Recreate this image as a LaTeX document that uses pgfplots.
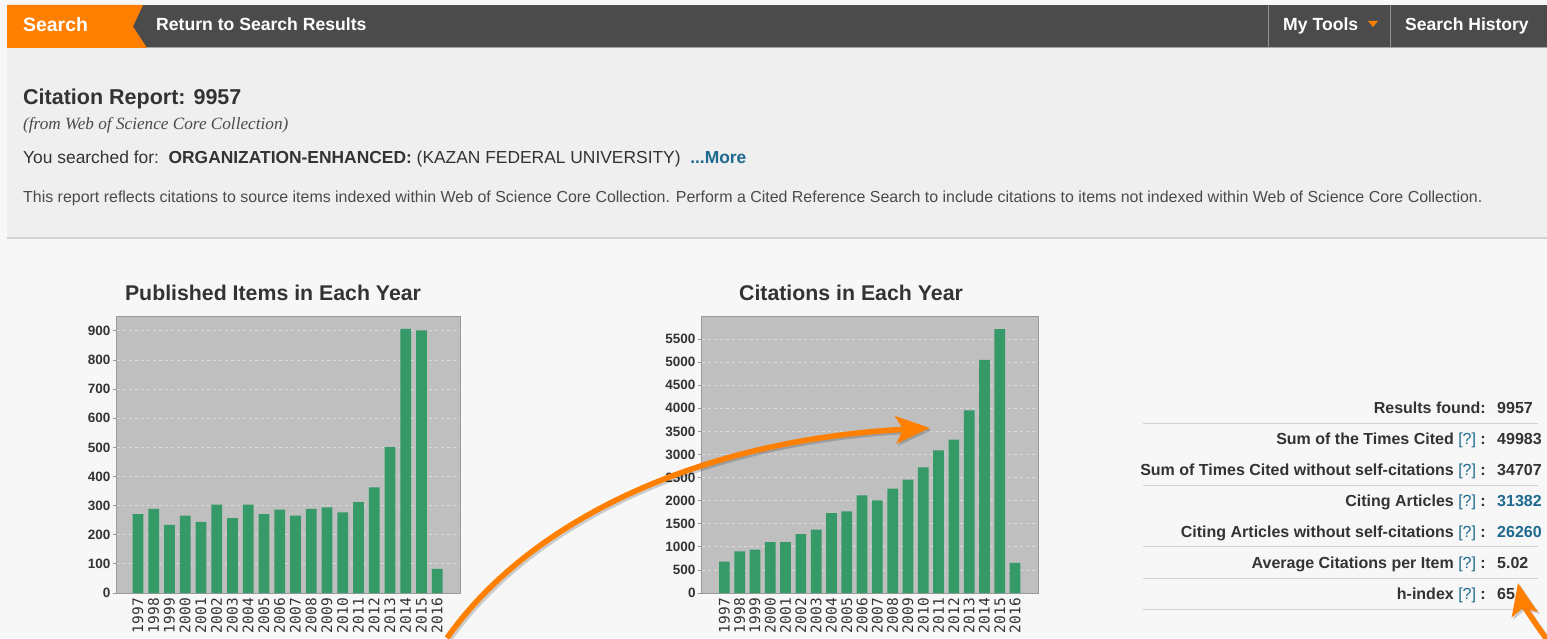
\documentclass[border=0pt]{standalone}
\usepackage{fontspec}
\setmainfont{Liberation Sans}
\newfontfamily\serifit{Liberation Serif}
\newfontfamily\monof{DejaVu Sans Mono}
\usepackage{pgfplots}
\pgfplotsset{compat=1.18}
\usetikzlibrary{arrows.meta}

\definecolor{pagebg}{HTML}{F7F7F7}
\definecolor{headbg}{HTML}{EFEFEF}
\definecolor{barbg}{HTML}{4B4B4B}
\definecolor{orng}{HTML}{FF7F00}
\definecolor{txt}{HTML}{333333}
\definecolor{bodytxt}{HTML}{4A4A4A}
\definecolor{linkc}{HTML}{1E6A8E}
\definecolor{rulec}{HTML}{D2D2D2}
\definecolor{plotbg}{HTML}{BFBFBF}
\definecolor{gridc}{HTML}{DADADA}
\definecolor{framec}{HTML}{9A9A9A}
\definecolor{barc}{HTML}{359968}

\newcommand{\fs}[1]{\fontsize{#1}{#1}\selectfont}

\pgfplotsset{wos/.style={
  scale only axis, height=277pt, anchor=south west,
  ybar, bar width=10.7pt, ymin=0,
  axis background/.style={fill=plotbg},
  axis line style={draw=framec, line width=0.8pt},
  ymajorgrids, grid style={dashed, draw=gridc, line width=0.8pt},
  xtick={0,...,19},
  xticklabels={1997,1998,1999,2000,2001,2002,2003,2004,2005,2006,2007,2008,2009,2010,2011,2012,2013,2014,2015,2016},
  x tick label style={rotate=90, anchor=east, font=\monof\fs{14.5}, text=txt, inner sep=1pt},
  y tick label style={font=\bfseries\fs{13.5}, text=txt, /pgf/number format/1000 sep={}, inner sep=2pt},
  /pgf/number format/assume math mode=true,
  scaled y ticks=false,
  xtick style={draw=none},
  ytick pos=left,
  ytick style={draw=framec, line width=0.8pt},
  tick align=outside, major tick length=4pt,
}}

\begin{document}
\begin{tikzpicture}[x=1pt,y=1pt]
\useasboundingbox (0,0) rectangle (1547,638);
% page
\fill[pagebg] (0,0) rectangle (1547,638);
\fill[headbg] (7,400) rectangle (1547,633);
\draw[rulec, line width=1.5pt] (7,400) -- (1547,400);
% top bar
\fill[barbg] (7,590) rectangle (1547,633);
\draw[gray!70, line width=1pt] (7,590) -- (1547,590);
\fill[orng] (7,590) -- (7,633) -- (143,633) -- (133,611.5) -- (147,590) -- cycle;
\draw[white!40!barbg, line width=0.8pt] (1268,590) -- (1268,633) (1390,590) -- (1390,633);
\node[anchor=base west, inner sep=0pt, text=white] at (23,606) {\bfseries\fs{19.4}Search};
\node[anchor=base west, inner sep=0pt, text=white] at (156,607) {\bfseries\fs{17.6}Return to Search Results};
\node[anchor=base west, inner sep=0pt, text=white] at (1283,607) {\bfseries\fs{17.6}My Tools};
\fill[orng] (1368,617) -- (1378,617) -- (1373,611) -- cycle;
\node[anchor=base west, inner sep=0pt, text=white] at (1405,607) {\bfseries\fs{17.5}Search History};
% header text
\node[anchor=base west, inner sep=0pt, text=txt] at (23,533) {\bfseries\fs{21.5}Citation Report: 9957};
\node[anchor=base west, inner sep=0pt, text=bodytxt] at (23,508) {\serifit\itshape\fs{17.2}(from Web of Science Core Collection)};
\node[anchor=base west, inner sep=0pt, text=txt] at (23,474) {\fs{17.4}You searched for:\ \ \textbf{ORGANIZATION-ENHANCED:} (KAZAN FEDERAL UNIVERSITY)\ \ \textcolor{linkc}{\bfseries ...More}};
\node[anchor=base west, inner sep=0pt, text=bodytxt] at (23,435) {\fs{15.95}This report reflects citations to source items indexed within Web of Science Core Collection. Perform a Cited Reference Search to include citations to items not indexed within Web of Science Core Collection.};
% chart titles
\node[anchor=base, inner sep=0pt, text=txt] at (273,337) {\bfseries\fs{21.3}Published Items in Each Year};
\node[anchor=base, inner sep=0pt, text=txt] at (851,337) {\bfseries\fs{21.3}Citations in Each Year};

\begin{axis}[wos, at={(116.7pt,45pt)}, width=343.3pt,
  xmin=-1.35, xmax=20.45, ymax=951, ytick={0,100,...,900}]
\addplot[fill=barc, draw=none] coordinates {
(0,271) (1,289) (2,234) (3,266) (4,244) (5,303) (6,257) (7,303) (8,271) (9,286)
(10,266) (11,289) (12,294) (13,277) (14,312) (15,363) (16,501) (17,907) (18,902) (19,83)};
\end{axis}

\begin{axis}[wos, at={(701.7pt,45pt)}, width=336.3pt,
  xmin=-1.48, xmax=20.5, ymax=6000, ytick={0,500,...,5500}]
\addplot[fill=barc, draw=none] coordinates {
(0,678) (1,902) (2,938) (3,1104) (4,1104) (5,1277) (6,1371) (7,1732) (8,1768) (9,2115)
(10,2006) (11,2259) (12,2454) (13,2721) (14,3089) (15,3320) (16,3955) (17,5052) (18,5716) (19,650)};
\end{axis}

% stats table
\foreach \yy in {215,153,92,60,29} \draw[rulec, line width=1pt] (1143,\yy) -- (1538,\yy);
\newcommand{\q}{\mdseries\textcolor{linkc}{[?]}\ \bfseries:}
\begin{scope}[every node/.style={inner sep=0pt, text=txt, font=\bfseries\fs{16}}]
\node[anchor=base east] at (1486,225) {Results found:};
\node[anchor=base west] at (1497,225) {9957};
\node[anchor=base east] at (1486,194) {Sum of the Times Cited \q};
\node[anchor=base west] at (1497,194) {49983};
\node[anchor=base east] at (1486,163) {Sum of Times Cited without self-citations \q};
\node[anchor=base west] at (1497,163) {34707};
\node[anchor=base east] at (1486,132) {Citing Articles \q};
\node[anchor=base west, text=linkc] at (1497,132) {31382};
\node[anchor=base east] at (1486,101) {Citing Articles without self-citations \q};
\node[anchor=base west, text=linkc] at (1497,101) {26260};
\node[anchor=base east] at (1486,70) {Average Citations per Item \q};
\node[anchor=base west] at (1497,70) {5.02};
\node[anchor=base east] at (1486,39) {h-index \q};
\node[anchor=base west] at (1497,39) {65};
\end{scope}

% arrows
\begin{scope}[line width=5.5pt]
\draw[black, opacity=0.18, -{Stealth[length=34pt, width=27pt, inset=7pt]}, shift={(2,-2)}]
  (447,0) .. controls (530,118) and (700,198) .. (930,210);
\draw[orng, -{Stealth[length=34pt, width=27pt, inset=7pt]}]
  (447,0) .. controls (530,118) and (700,198) .. (930,210);
\draw[black, opacity=0.18, -{Stealth[length=32pt, width=26pt, inset=7pt]}, shift={(2,-2)}]
  (1552,-8) .. controls (1536,12) and (1522,36) .. (1518,55);
\draw[orng, -{Stealth[length=32pt, width=26pt, inset=7pt]}]
  (1552,-8) .. controls (1536,12) and (1522,36) .. (1518,55);
\end{scope}
\end{tikzpicture}
\end{document}
